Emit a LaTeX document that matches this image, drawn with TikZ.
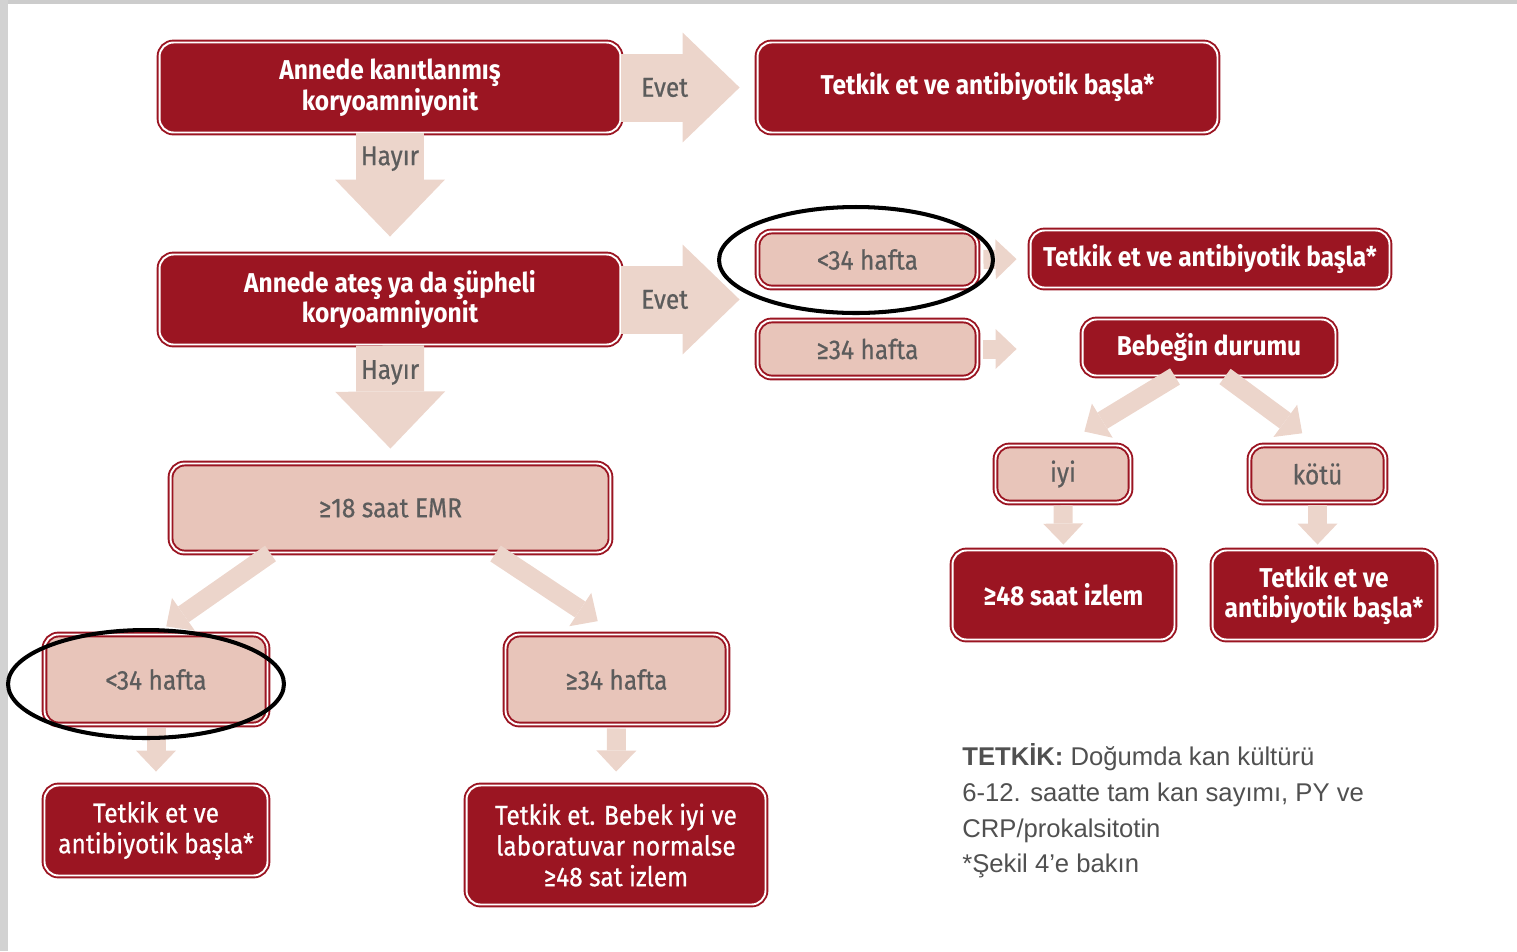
\documentclass[tikz,border=0pt]{standalone}
\usepackage{fontspec}
\setmainfont{Fira Sans}[FakeStretch=0.9]
\newfontfamily\midfont{Fira Sans}[FakeStretch=0.9, FakeBold=0.6]
\newfontfamily\legendfont{Liberation Sans}
\usetikzlibrary{arrows.meta,calc}

\definecolor{boxred}{RGB}{155,21,34}
\definecolor{boxpink}{RGB}{232,197,186}
\definecolor{arrowpink}{RGB}{236,213,203}
\definecolor{txtgray}{RGB}{92,92,92}
\definecolor{notegray}{RGB}{80,80,80}

\tikzset{
  darkbox/.style={draw=boxred, double=white, double distance=1.1pt, line width=1.1pt,
    fill=boxred, rounded corners=0.28cm, text=white, align=center, inner sep=0pt,
    font=\bfseries\fontsize{15.5}{17.5}\selectfont},
  darkplain/.style={darkbox, font=\midfont\fontsize{15.5}{17.5}\selectfont},
  pinkbox/.style={darkbox, fill=boxpink, text=txtgray, font=\midfont\fontsize{15.5}{17.5}\selectfont},
  bigarrow/.style={color=arrowpink, line width=1.36cm,
    -{Triangle[length=1.14cm, width=2.2cm, line width=0pt]}},
  smallarrow/.style={color=arrowpink, line width=0.38cm,
    -{Triangle[length=0.42cm, width=0.8cm, line width=0pt]}},
  answer/.style={text=txtgray, font=\midfont\fontsize{15.5}{17.5}\selectfont},
  circled/.style={black, line width=2.3pt},
}

\begin{document}
\begin{tikzpicture}[x=0.02cm, y=-0.02cm]
\useasboundingbox (0,0) rectangle (1517,951);
\fill[gray!40] (0,0) rectangle (1517,4);
\fill[gray!35] (0,0) rectangle (8,951);

% left column
\node[darkbox, minimum width=9.22cm, minimum height=1.8cm] (annA) at (390,87.5) {Annede kanıtlanmış\\koryoamniyonit};
\node[darkbox, minimum width=9.2cm, minimum height=1.8cm] (tkA) at (987.5,87.5) {Tetkik et ve antibiyotik başla*};
\node[darkbox, minimum width=9.22cm, minimum height=1.8cm] (annC) at (390,299.5) {Annede ateş ya da şüpheli\\koryoamniyonit};
\node[pinkbox, minimum width=8.8cm, minimum height=1.78cm] (emr) at (390.5,508) {≥18 saat EMR};

% right of the second question
\node[pinkbox, minimum width=4.4cm, minimum height=1.12cm] (ltA) at (867.5,259.5) {<34 hafta};
\node[pinkbox, minimum width=4.4cm, minimum height=1.14cm] (geA) at (867.5,349) {≥34 hafta};
\node[darkbox, minimum width=7.18cm, minimum height=1.14cm] (tkB) at (1210,259) {Tetkik et ve antibiyotik başla*};
\node[darkbox, minimum width=5.06cm, minimum height=1.12cm] (baby) at (1209,347.5) {Bebeğin durumu};
\node[pinkbox, minimum width=2.7cm, minimum height=1.14cm] (good) at (1063,474) {iyi};
\node[pinkbox, minimum width=2.72cm, minimum height=1.14cm] (bad) at (1317.5,474) {kötü};
\node[darkbox, minimum width=4.44cm, minimum height=1.78cm] (watchA) at (1063.5,595) {≥48 saat izlem};
\node[darkbox, minimum width=4.46cm, minimum height=1.78cm] (tkC) at (1324,595) {Tetkik et ve\\antibiyotik başla*};

% below EMR
\node[pinkbox, minimum width=4.46cm, minimum height=1.8cm] (ltB) at (156,679.5) {<34 hafta};
\node[pinkbox, minimum width=4.44cm, minimum height=1.8cm] (geB) at (616.5,679.5) {≥34 hafta};
\node[darkplain, minimum width=4.46cm, minimum height=1.8cm] (tkD) at (156,830.5) {Tetkik et ve\\antibiyotik başla*};
\node[darkplain, minimum width=5.98cm, minimum height=2.38cm] (watchB) at (616,845) {Tetkik et. Bebek iyi ve\\laboratuvar normalse\\≥48 sat izlem};

% block arrows
\draw[bigarrow, shorten >=0.34cm] (annA.east) -- node[answer, pos=0.32] {Evet} (tkA.west);
\draw[bigarrow, shorten >=0.34cm] (annA.south) -- node[answer, pos=0.21] {Hayır} (annC.north);
\draw[bigarrow, shorten >=0.34cm] (annC.east) -- node[answer, pos=0.32] {Evet} (annC.east -| ltA.west);
\draw[bigarrow, shorten >=0.28cm] (annC.south) -- node[answer, pos=0.23] {Hayır} (emr.north);

\draw[smallarrow, shorten <=0.1cm, shorten >=0.26cm] (ltA.east) -- (tkB.west);
\draw[smallarrow, shorten <=0.1cm, shorten >=0.26cm] (geA.east) -- (geA.east -| tkB.west);
\draw[smallarrow, shorten >=0.5cm] ($(baby.south)+(-34,0)$) -- (good.north);
\draw[smallarrow, shorten >=0.38cm] ($(baby.south)+(16,0)$) -- (bad.north);
\draw[smallarrow, shorten <=0.04cm, shorten >=0.1cm] (good.south) -- (watchA.north);
\draw[smallarrow, shorten <=0.04cm, shorten >=0.1cm] (bad.south) -- (bad.south |- tkC.north);

\draw[smallarrow, shorten >=0.25cm] ($(emr.south)+(-120,0)$) -- (ltB.north);
\draw[smallarrow, shorten >=0.45cm] ($(emr.south)+(105,0)$) -- (geB.north);
\draw[smallarrow, shorten <=0.06cm, shorten >=0.26cm] (ltB.south) -- (tkD.north);
\draw[smallarrow, shorten <=0.06cm, shorten >=0.26cm] (geB.south) -- (watchB.north);

% hand-drawn rings
\draw[circled] (856,260) ellipse [x radius=2.74cm, y radius=1.06cm];
\draw[circled] (146,684) ellipse [x radius=2.76cm, y radius=1.08cm];

% note
\node[anchor=north west, align=left, inner sep=0pt, text=notegray,
  font=\legendfont\fontsize{14.6}{20.4}\selectfont] (note) at (962,743)
  {\textbf{TETKİK:} Doğumda kan kültürü\\6-12. saatte tam kan sayımı, PY ve\\CRP/prokalsitotin\\*Şekil 4’e bakın};
\end{tikzpicture}
\end{document}
